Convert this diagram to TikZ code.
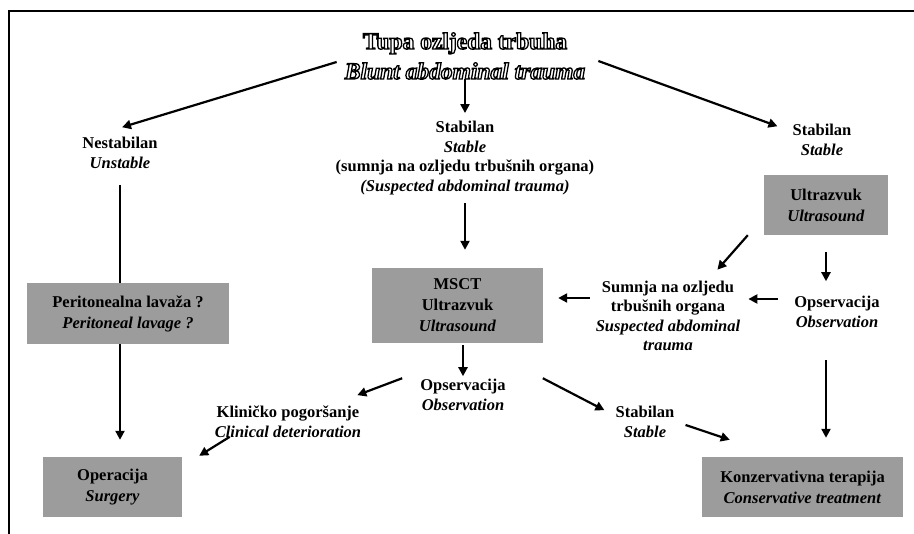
\documentclass[tikz,border=0pt]{standalone}
\usepackage{fontspec}
\setmainfont{Liberation Serif}
\usetikzlibrary{arrows.meta,positioning}

\definecolor{boxgray}{RGB}{156,156,156}
% hollow letters: fill white, stroke black
\newcommand{\hollowtext}[1]{\special{pdf:literal direct 2 Tr 1.3 w 0 0 0 RG 1 1 1 rg}#1\special{pdf:literal direct 0 Tr 0 0 0 rg}}

\tikzset{
  stepbox/.style={fill=boxgray, align=center, inner sep=0pt,
    font=\fontsize{16.5}{21}\selectfont\bfseries},
  steptext/.style={align=center, inner sep=0pt,
    font=\fontsize{16.5}{19.5}\selectfont\bfseries},
  arr/.style={line width=2.2pt, -{Triangle[length=9pt,width=9pt]}},
}

\begin{document}
\begin{tikzpicture}[x=1pt,y=-1pt]
		\useasboundingbox (0,0) rectangle (914,534);
		\draw[line width=1.4pt] (9,534) -- (9,11) -- (914,11);

		\node[align=center, inner sep=0pt, font=\fontsize{23.5}{30}\selectfont\bfseries] (trauma) at (465,56)
			{\hollowtext{Tupa ozljeda trbuha}\\
			 \hollowtext{\itshape Blunt abdominal trauma}};

		\node[steptext] (unstable) at (120,153) {Nestabilan\\\textit{Unstable}};
		\node[steptext] (stable) at (465,158) {Stabilan\\\textit{Stable}\\(sumnja na ozljedu trbušnih organa)\\\textit{(Suspected abdominal trauma)}};
		\node[steptext] (stableR) at (822,140) {Stabilan\\\textit{Stable}};
		\node[stepbox, minimum width=124pt, minimum height=60pt] (usR) at (826,205) {Ultrazvuk\\\textit{Ultrasound}};

		\node[stepbox, minimum width=202pt, minimum height=61pt] (lavage) at (128,313.5) {Peritonealna lavaža ?\\\textit{Peritoneal lavage ?}};
		\node[stepbox, minimum width=171pt, minimum height=75pt] (msct) at (457.5,305.5) {MSCT\\Ultrazvuk\\\textit{Ultrasound}};
		\node[steptext] (suspect) at (668,316) {Sumnja na ozljedu\\trbušnih organa\\\textit{Suspected abdominal}\\\textit{trauma}};
		\node[steptext] (obsR) at (837,312) {Opservacija\\\textit{Observation}};

		\node[steptext] (obs) at (463,395) {Opservacija\\\textit{Observation}};
		\node[steptext] (worse) at (288,422) {Kliničko pogoršanje\\\textit{Clinical deterioration}};
		\node[steptext] (stableB) at (645,422) {Stabilan\\\textit{Stable}};
		\node[stepbox, minimum width=139pt, minimum height=60pt] (surgery) at (112.5,487) {Operacija\\\textit{Surgery}};
		\node[stepbox, minimum width=201pt, minimum height=60pt] (conserv) at (802.5,487) {Konzervativna terapija\\\textit{Conservative treatment}};

		% from the top
		\draw[arr] ([shift={(-8,6)}]trauma.west) -- ([shift={(2,-10)}]unstable.north);
		\draw[arr, shorten >=8pt] (trauma.south) -- (stable.north);
		\draw[arr] ([shift={(13,5)}]trauma.east) -- ([shift={(-15,2)}]stableR.north west);

		% left column
		\draw[line width=2.2pt, shorten <=16pt] (unstable.south) -- (unstable.south |- lavage.north);
		\draw[arr, shorten >=17pt] (lavage.south -| unstable) -- (unstable |- surgery.north);

		% middle column
		\draw[arr, shorten <=8pt, shorten >=18pt] (stable.south) -- (stable.south |- msct.north);
		\draw[arr, shorten <=2pt, shorten >=3pt] (msct.south -| obs) -- (obs.north);
		\draw[arr] ([shift={(-18,-1)}]obs.north west) -- ([shift={(-4,-11)}]worse.north east);
		\draw[arr] ([shift={(15,-1)}]worse.south west) -- ([shift={(17,-1)}]surgery.north east);
		\draw[arr] ([shift={(37,-1)}]obs.north east) -- ([shift={(-11,4)}]stableB.north west);
		\draw[arr] ([shift={(11,3)}]stableB.east) -- ([shift={(28,-17)}]conserv.north west);

		% right column
		\draw[arr, shorten <=17pt, shorten >=15pt] (usR.south) -- (usR |- obsR.north);
		\draw[arr] ([shift={(-16,0)}]usR.south west) -- ([shift={(-23,-11)}]suspect.north east);
		\draw[arr] ([shift={(-16,-13)}]obsR.west) -- ([shift={(8,-17)}]suspect.east);
		\draw[arr] ([shift={(-6,-18)}]suspect.west) -- ([shift={(15,-7.5)}]msct.east);
		\draw[arr, shorten <=32pt, shorten >=19pt] (usR |- obsR.south) -- (usR |- conserv.north);
	\end{tikzpicture}
\end{document}
